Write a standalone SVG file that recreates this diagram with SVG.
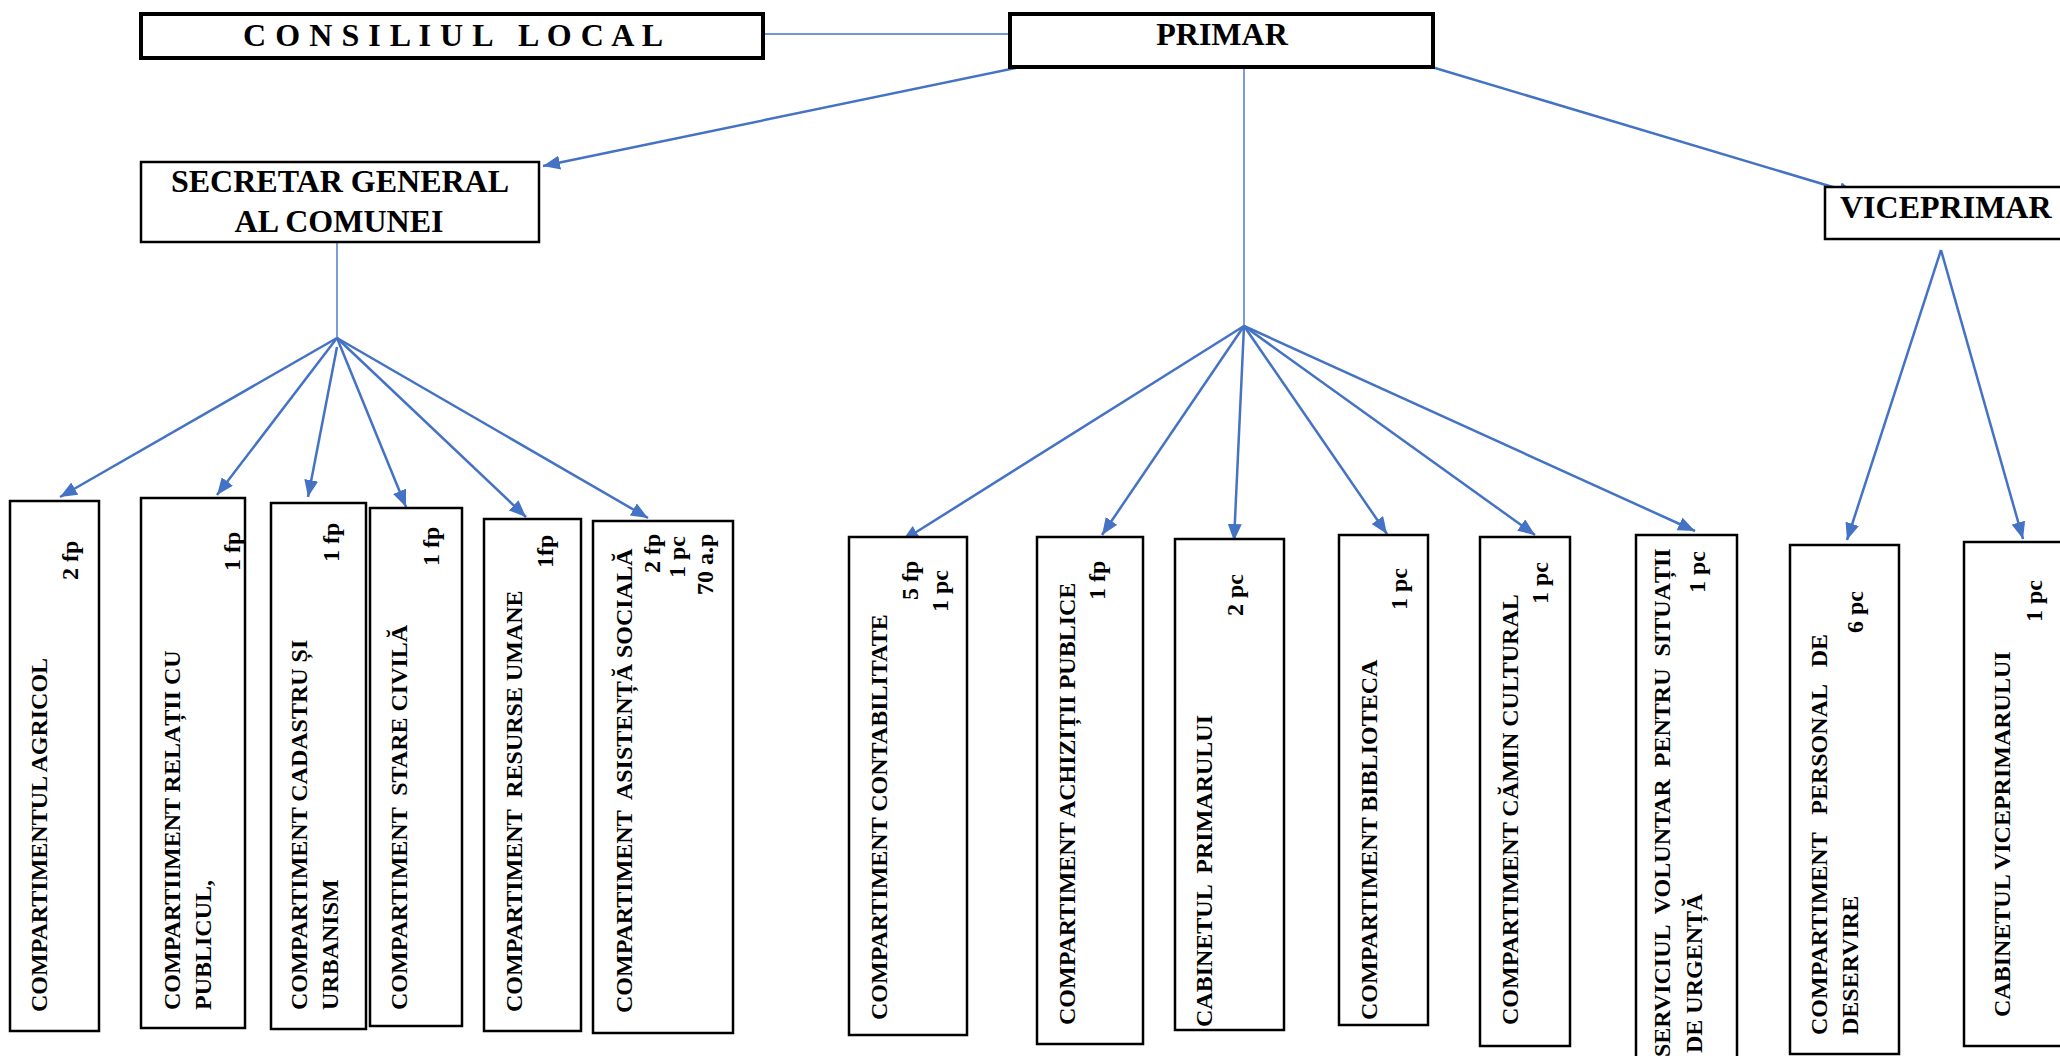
<svg xmlns="http://www.w3.org/2000/svg" width="2060" height="1056" viewBox="0 0 2060 1056">
<defs>
<marker id="ah" markerUnits="userSpaceOnUse" markerWidth="18" markerHeight="14" refX="17" refY="7" orient="auto">
<path d="M0,0 L17,7 L0,14 z" fill="#4472C4"/>
</marker>
<style>
.box{fill:#fff;stroke:#000;stroke-width:2.5}
.thick{fill:#fff;stroke:#000;stroke-width:4}
.t{font-family:"Liberation Serif","Times New Roman",serif;font-weight:bold;fill:#000}
.h{font-size:32px}
.v{font-size:24px}
.arr{stroke:#4472C4;stroke-width:2.5;fill:none;marker-end:url(#ah)}
.thin{stroke:#4472C4;stroke-width:1.4;fill:none}
</style>
</defs>
<rect width="2060" height="1056" fill="#fff"/>

<g id="connectors">
<line class="thin" x1="763" y1="34" x2="1010" y2="34"/>
<line class="thin" x1="1244" y1="67" x2="1244" y2="326"/>
<line class="thin" x1="337" y1="242" x2="337" y2="338"/>
<line class="arr" x1="1030" y1="65" x2="543" y2="166"/>
<line class="arr" x1="1425" y1="65" x2="1856" y2="194"/>
<line class="arr" x1="337" y1="338" x2="60" y2="497"/>
<line class="arr" x1="337" y1="338" x2="217" y2="495"/>
<line class="arr" x1="337" y1="347" x2="308" y2="497"/>
<line class="arr" x1="337" y1="338" x2="406" y2="507"/>
<line class="arr" x1="337" y1="338" x2="526" y2="517"/>
<line class="arr" x1="337" y1="338" x2="648" y2="518"/>
<line class="arr" x1="1244" y1="326" x2="902" y2="541"/>
<line class="arr" x1="1244" y1="326" x2="1102" y2="535"/>
<line class="arr" x1="1244" y1="326" x2="1234" y2="541"/>
<line class="arr" x1="1244" y1="326" x2="1387" y2="534"/>
<line class="arr" x1="1244" y1="326" x2="1535" y2="535"/>
<line class="arr" x1="1244" y1="326" x2="1695" y2="531"/>
<line class="arr" x1="1941" y1="250" x2="1847" y2="540"/>
<line class="arr" x1="1941" y1="250" x2="2023" y2="539"/>
</g>

<g id="consiliul">
<rect class="thick" x="141" y="14" width="622" height="44"/>
<text class="t h" x="243" y="46" textLength="420" lengthAdjust="spacing" xml:space="preserve">C O N S I L I U L   L O C A L</text>
</g>
<g id="primar">
<rect class="thick" x="1010" y="14" width="423" height="53"/>
<text class="t h" x="1222" y="45" text-anchor="middle">PRIMAR</text>
</g>
<g id="secretar">
<rect class="box" x="141" y="162" width="398" height="80"/>
<text class="t h" x="340" y="192" text-anchor="middle">SECRETAR GENERAL</text>
<text class="t h" x="339" y="232" text-anchor="middle">AL COMUNEI</text>
</g>
<g id="viceprimar">
<rect class="box" x="1825" y="187" width="240" height="52" stroke-width="2"/>
<text class="t h" x="1840" y="218">VICEPRIMAR</text>
</g>

<g id="agricol">
<rect class="box" x="10" y="501" width="89" height="530"/>
<text class="t v" transform="translate(47,1012) rotate(-90)">COMPARTIMENTUL AGRICOL</text>
<text class="t v" transform="translate(78,580) rotate(-90)">2 fp</text>
</g>
<g id="relatii">
<rect class="box" x="141" y="498" width="104" height="530"/>
<text class="t v" transform="translate(180,1010) rotate(-90)">COMPARTIIMENT RELAȚII CU</text>
<text class="t v" transform="translate(211,1010) rotate(-90)">PUBLICUL,</text>
<text class="t v" transform="translate(240,571) rotate(-90)">1 fp</text>
</g>
<g id="cadastru">
<rect class="box" x="271" y="503" width="95" height="526"/>
<text class="t v" transform="translate(307,1010) rotate(-90)">COMPARTIMENT CADASTRU ȘI</text>
<text class="t v" transform="translate(338,1010) rotate(-90)">URBANISM</text>
<text class="t v" transform="translate(339,562) rotate(-90)">1 fp</text>
</g>
<g id="stare-civila">
<rect class="box" x="370" y="508" width="92" height="518"/>
<text class="t v" transform="translate(407,1010) rotate(-90)" xml:space="preserve">COMPARTIMENT  STARE CIVILĂ</text>
<text class="t v" transform="translate(439,566) rotate(-90)">1 fp</text>
</g>
<g id="resurse-umane">
<rect class="box" x="484" y="519" width="97" height="512"/>
<text class="t v" transform="translate(522,1012) rotate(-90)" xml:space="preserve">COMPARTIMENT  RESURSE UMANE</text>
<text class="t v" transform="translate(553,568) rotate(-90)">1fp</text>
</g>
<g id="asistenta">
<rect class="box" x="593" y="521" width="140" height="512"/>
<text class="t v" transform="translate(632,1013) rotate(-90)" xml:space="preserve">COMPARTIMENT  ASISTENȚĂ SOCIALĂ</text>
<text class="t v" transform="translate(660,573) rotate(-90)">2 fp</text>
<text class="t v" transform="translate(685,578) rotate(-90)">1 pc</text>
<text class="t v" transform="translate(713,595) rotate(-90)">70 a.p</text>
</g>

<g id="contabilitate">
<rect class="box" x="849" y="537" width="118" height="498"/>
<text class="t v" transform="translate(887,1020) rotate(-90)">COMPARTIMENT CONTABILITATE</text>
<text class="t v" transform="translate(918,600) rotate(-90)">5 fp</text>
<text class="t v" transform="translate(948,612) rotate(-90)">1 pc</text>
</g>
<g id="achizitii">
<rect class="box" x="1037" y="537" width="106" height="507"/>
<text class="t v" transform="translate(1075,1025) rotate(-90)">COMPARTIMENT ACHIZIȚII PUBLICE</text>
<text class="t v" transform="translate(1105,600) rotate(-90)">1 fp</text>
</g>
<g id="cabinet-primar">
<rect class="box" x="1175" y="539" width="109" height="491"/>
<text class="t v" transform="translate(1212,1027) rotate(-90)" xml:space="preserve">CABINETUL  PRIMARULUI</text>
<text class="t v" transform="translate(1243,616) rotate(-90)">2 pc</text>
</g>
<g id="biblioteca">
<rect class="box" x="1339" y="535" width="89" height="490"/>
<text class="t v" transform="translate(1377,1020) rotate(-90)">COMPARTIMENT BIBLIOTECA</text>
<text class="t v" transform="translate(1407,610) rotate(-90)">1 pc</text>
</g>
<g id="camin">
<rect class="box" x="1480" y="537" width="90" height="509"/>
<text class="t v" transform="translate(1518,1025) rotate(-90)">COMPARTIMENT CĂMIN CULTURAL</text>
<text class="t v" transform="translate(1548,604) rotate(-90)">1 pc</text>
</g>
<g id="serviciul">
<rect class="box" x="1636" y="535" width="101" height="530"/>
<text class="t v" transform="translate(1670,1057) rotate(-90)" xml:space="preserve">SERVICIUL  VOLUNTAR  PENTRU  SITUAȚII</text>
<text class="t v" transform="translate(1702,1053) rotate(-90)">DE URGENȚĂ</text>
<text class="t v" transform="translate(1705,593) rotate(-90)">1 pc</text>
</g>
<g id="deservire">
<rect class="box" x="1790" y="545" width="109" height="509"/>
<text class="t v" transform="translate(1827,1035) rotate(-90)" xml:space="preserve">COMPARTIMENT   PERSONAL   DE</text>
<text class="t v" transform="translate(1858,1035) rotate(-90)">DESERVIRE</text>
<text class="t v" transform="translate(1863,633) rotate(-90)">6 pc</text>
</g>
<g id="cabinet-viceprimar">
<rect class="box" x="1964" y="542" width="100" height="504"/>
<text class="t v" transform="translate(2010,1017) rotate(-90)">CABINETUL VICEPRIMARULUI</text>
<text class="t v" transform="translate(2042,622) rotate(-90)">1 pc</text>
</g>
</svg>
